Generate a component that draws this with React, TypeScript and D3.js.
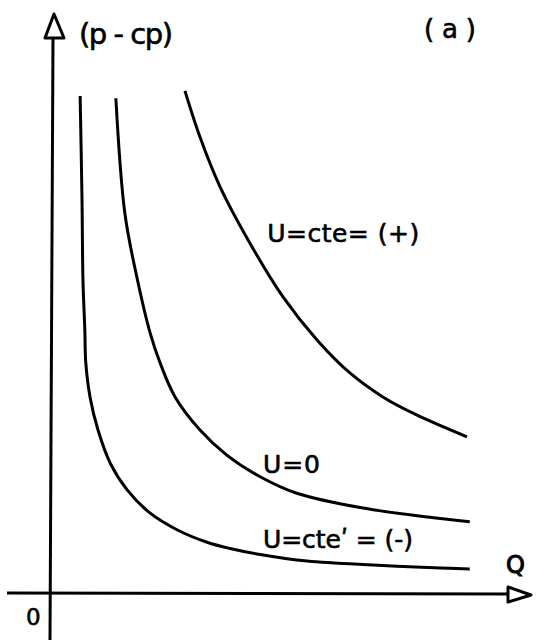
import React from "react";
import * as d3 from "d3";

const WIDTH = 536;
const HEIGHT = 642;

// Curve samples: Q on the horizontal axis, (p - cp) on the vertical axis
const negQ = [6.2, 6.6, 6.8, 7.2, 7.4, 8.3, 10.0, 12.6, 16.2, 21.1, 26.8, 33.2, 38.1, 44.5, 54.5, 68.5, 82.8, 89.1];
const negV = [87.2, 68.9, 54.9, 46.1, 40.4, 34.4, 28.6, 22.8, 18.1, 14.0, 11.1, 8.9, 7.8, 6.75, 5.6, 4.9, 4.4, 4.2];

const zeroQ = [13.8, 15.7, 18.3, 21.1, 23.2, 26.4, 31.7, 37.4, 44.5, 52.3, 66.4, 80.6, 89.1];
const zeroV = [86.8, 66.7, 55.3, 45.6, 40.4, 34.4, 28.6, 24.2, 20.4, 17.5, 14.9, 13.3, 12.5];

const posQ = [28.5, 31.7, 36.0, 42.3, 49.4, 56.6, 63.6, 70.6, 77.9, 88.5];
const posV = [88.1, 80.0, 71.2, 61.4, 51.9, 44.4, 38.6, 34.4, 31.2, 27.4];

const curveLabels = ["U=cte\u02B9 = (-)", "U=0", "U=cte= (+)"];
const yAxisLabel = "(p - cp)";
const xAxisLabel = "Q";
const originLabel = "0";
const panelLabel = "( a )";

const FONT = "'DejaVu Sans', sans-serif";

export default function App() {
  const x = d3.scaleLinear().domain([0, 100]).range([51, 521]);
  const y = d3.scaleLinear().domain([0, 100]).range([593, 23]);

  const line = d3
    .line<[number, number]>()
    .x((d) => x(d[0]))
    .y((d) => y(d[1]))
    .curve(d3.curveCatmullRom.alpha(0.5));

  const zip = (qs: number[], vs: number[]) => qs.map((q, i) => [q, vs[i]] as [number, number]);
  const series = [zip(negQ, negV), zip(zeroQ, zeroV), zip(posQ, posV)];

  const x0 = x(0);
  const y0 = y(0);

  // label anchors in data units, with the run length of each label
  const labelPos: [number, number, number][] = [
    [45.1, 7.9, 150],
    [45.1, 21.1, 57],
    [46.0, 61.5, 152],
  ];

  const textStyle = {
    fontFamily: FONT,
    fill: "#000",
    stroke: "#000",
    strokeWidth: 0.6,
  } as const;

  return (
    <svg
      width={WIDTH}
      height={HEIGHT}
      style={{ position: "absolute", left: 0, top: 0, background: "#fff" }}
    >
      <rect width={WIDTH} height={HEIGHT} fill="#fff" />

      {/* vertical axis with open arrowhead */}
      <line x1={x0 - 1} y1={y0 + 47} x2={x0 + 2} y2={38} stroke="#000" strokeWidth={3} />
      <polygon
        points={`${x0 - 6},38 ${x0 + 13},38 ${x0 + 3},14`}
        fill="#fff"
        stroke="#000"
        strokeWidth={3}
        strokeLinejoin="round"
      />

      {/* horizontal axis with open arrowhead */}
      <line x1={7} y1={y0} x2={508} y2={y0 + 1} stroke="#000" strokeWidth={3} />
      <polygon
        points={`508,${y0 - 6} 508,${y0 + 9} 531,${y0 + 2}`}
        fill="#fff"
        stroke="#000"
        strokeWidth={3}
        strokeLinejoin="round"
      />

      {series.map((pts, i) => (
        <path key={i} d={line(pts) ?? ""} fill="none" stroke="#000" strokeWidth={3} />
      ))}

      {curveLabels.map((t, i) => (
        <text
          key={t}
          x={x(labelPos[i][0])}
          y={y(labelPos[i][1])}
          fontSize={25}
          textLength={labelPos[i][2]}
          lengthAdjust="spacing"
          style={textStyle}
        >
          {t}
        </text>
      ))}

      <text x={79} y={44} fontSize={29} textLength={94} lengthAdjust="spacing" style={textStyle}>
        {yAxisLabel}
      </text>
      <text x={424} y={38} fontSize={26} textLength={52} lengthAdjust="spacing" style={textStyle}>
        {panelLabel}
      </text>
      <text x={506} y={573} fontSize={24} style={{ ...textStyle, strokeWidth: 1 }}>
        {xAxisLabel}
      </text>
      <text x={26} y={625} fontSize={23} style={textStyle}>
        {originLabel}
      </text>
    </svg>
  );
}
